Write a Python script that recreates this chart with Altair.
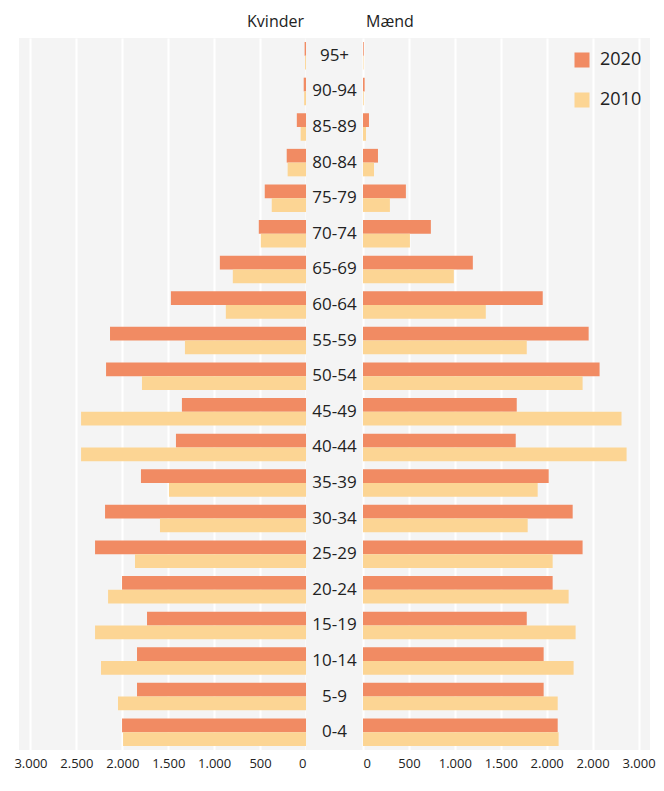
import altair as alt
import pandas as pd

# ---- data ----
ages = ["0-4", "5-9", "10-14", "15-19", "20-24", "25-29", "30-34", "35-39",
        "40-44", "45-49", "50-54", "55-59", "60-64", "65-69", "70-74",
        "75-79", "80-84", "85-89", "90-94", "95+"]
years = ["2020", "2010"]
women_2020 = [2003, 1840, 1840, 1731, 2003, 2297, 2188, 1797, 1416, 1351,
              2177, 2134, 1471, 938, 514, 449, 210, 100, 25, 15]
women_2010 = [1992, 2047, 2232, 2297, 2155, 1862, 1590, 1492, 2449, 2449,
              1786, 1318, 873, 797, 492, 373, 200, 58, 20, 10]
men_2020 = [2120, 1967, 1967, 1783, 2065, 2391, 2283, 2022, 1663, 1674,
            2576, 2457, 1957, 1196, 739, 467, 163, 65, 18, 8]
men_2010 = [2130, 2120, 2293, 2315, 2239, 2065, 1793, 1902, 2870, 2815,
            2391, 1783, 1337, 989, 511, 293, 120, 33, 8, 5]

tick_values = [0, 500, 1000, 1500, 2000, 2500, 3000]
left_tick_labels = ["0", "500", "1.000", "1.500", "2.000", "2.500", "3.000"]
right_tick_labels = ["0", "500", "1.000", "1.500", "2.000", "2.000", "3.000"]

ORANGE = "#F18B63"
YELLOW = "#FCD594"
TEXT = "#222222"
FONT = "Open Sans"

rows = []
for i, a in enumerate(ages):
    rows.append({"age": a, "year": "2020", "sex": "Kvinder", "value": women_2020[i]})
    rows.append({"age": a, "year": "2010", "sex": "Kvinder", "value": women_2010[i]})
    rows.append({"age": a, "year": "2020", "sex": "Mænd", "value": men_2020[i]})
    rows.append({"age": a, "year": "2010", "sex": "Mænd", "value": men_2010[i]})
df = pd.DataFrame(rows)
age_order = ages[::-1]


def label_expr(values, labels):
    expr = "''"
    for v, l in reversed(list(zip(values, labels))):
        expr = f"datum.value == {v} ? '{l}' : ({expr})"
    return expr


H = 712
y_enc = alt.Y("age:N", sort=age_order, axis=None,
              scale=alt.Scale(paddingInner=0.228, paddingOuter=0.114))
yoff = alt.YOffset("year:N", sort=years, scale=alt.Scale(paddingInner=0, paddingOuter=0))
color = alt.Color("year:N", scale=alt.Scale(domain=years, range=[ORANGE, YELLOW]),
                  legend=alt.Legend(title=None, orient="none", legendX=554, legendY=13,
                                    symbolType="square", symbolSize=225,
                                    symbolStrokeWidth=0, labelFontSize=18,
                                    labelColor=TEXT, labelFont=FONT,
                                    rowPadding=22, labelOffset=9))


def axis(labels):
    return alt.Axis(values=tick_values, labelExpr=label_expr(tick_values, labels),
                    title=None, grid=True, gridColor="white", gridWidth=2,
                    domain=False, ticks=False, labelPadding=7, labelFontSize=13,
                    labelColor=TEXT, labelFont=FONT)


base = alt.Chart(df)

left = base.transform_filter(alt.datum.sex == "Kvinder").mark_bar().encode(
    x=alt.X("value:Q", scale=alt.Scale(domain=[0, 3125], reverse=True, nice=False),
            axis=axis(left_tick_labels)),
    y=y_enc, yOffset=yoff, color=color,
).properties(width=287, height=H,
             title=alt.TitleParams("Kvinder", anchor="end", dx=-2))

mid = base.transform_filter(
    (alt.datum.sex == "Kvinder") & (alt.datum.year == "2020")
).mark_text(fontSize=17, font=FONT, color=TEXT, align="center", baseline="middle").encode(
    y=y_enc, x=alt.value(28.5), text="age:N",
).properties(width=57, height=H)

right = base.transform_filter(alt.datum.sex == "Mænd").mark_bar().encode(
    x=alt.X("value:Q", scale=alt.Scale(domain=[0, 3125], nice=False),
            axis=axis(right_tick_labels)),
    y=y_enc, yOffset=yoff, color=color,
).properties(width=287, height=H,
             title=alt.TitleParams("Mænd", anchor="start", dx=3))

chart = alt.hconcat(left, mid, right, spacing=0).resolve_scale(
    y="shared"
).properties(
    padding={"left": 5, "top": 6, "right": 0, "bottom": 0},
    background="white",
).configure_view(
    fill="#f4f4f4", stroke=None
).configure_title(
    fontSize=16, fontWeight="normal", color=TEXT, font=FONT, offset=8
)

chart.save("out.html", embed_options={"renderer": "svg", "actions": False})
